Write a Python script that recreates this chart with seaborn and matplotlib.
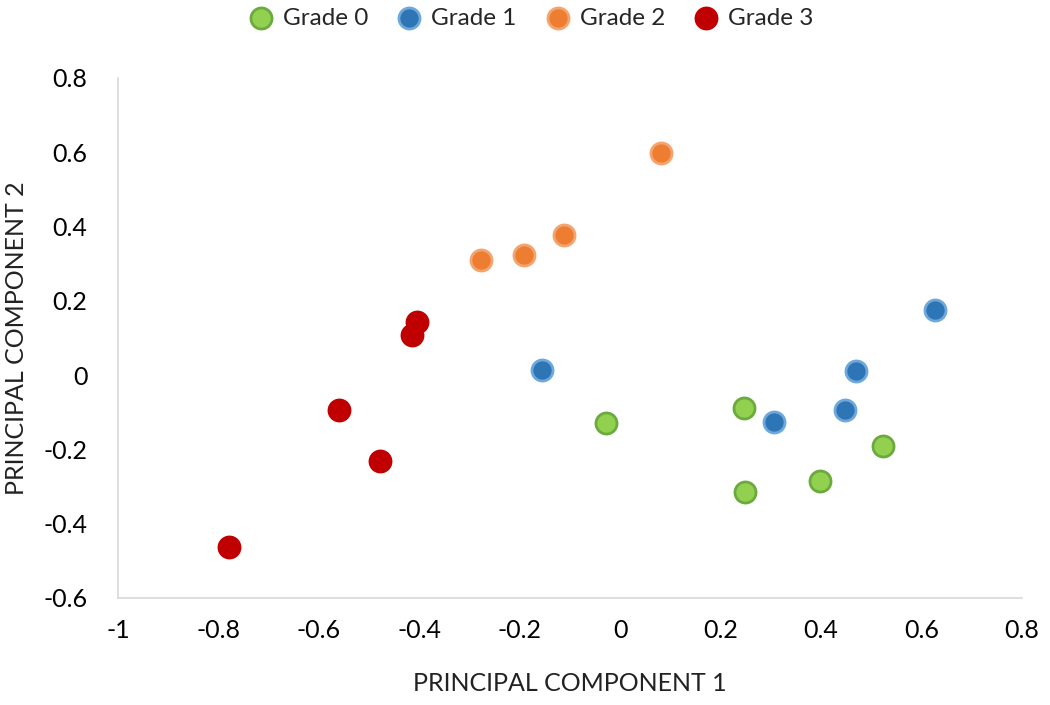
import pandas as pd
import matplotlib.pyplot as plt
import seaborn as sns

sns.set_style("white")
plt.rcParams['font.family'] = ['Lato', 'DejaVu Sans']

grades = ['Grade 0', 'Grade 1', 'Grade 2', 'Grade 3']
pc1 = {
    'Grade 0': [-0.028, 0.247, 0.249, 0.398, 0.523],
    'Grade 1': [-0.156, 0.306, 0.448, 0.470, 0.627],
    'Grade 2': [0.081, -0.277, -0.192, -0.112],
    'Grade 3': [-0.779, -0.560, -0.478, -0.415, -0.405],
}
pc2 = {
    'Grade 0': [-0.129, -0.089, -0.315, -0.285, -0.191],
    'Grade 1': [0.014, -0.126, -0.094, 0.011, 0.175],
    'Grade 2': [0.598, 0.310, 0.323, 0.377],
    'Grade 3': [-0.463, -0.094, -0.231, 0.108, 0.143],
}
fill = {'Grade 0': '#92D050', 'Grade 1': '#2E75B6', 'Grade 2': '#ED7D31', 'Grade 3': '#C00000'}
edge = {'Grade 0': '#6AAB3C', 'Grade 1': '#6FA8DC', 'Grade 2': '#F4A46E', 'Grade 3': '#C00000'}

rows = []
for g in grades:
    for x, y in zip(pc1[g], pc2[g]):
        rows.append({'pc1': x, 'pc2': y, 'grade': g})
df = pd.DataFrame(rows)

fig = plt.figure(figsize=(10.5, 7.05), dpi=100)
ax = fig.add_axes([0.1124, 0.1518, 0.861, 0.7376])
for g in grades:
    sub = df[df['grade'] == g]
    sns.scatterplot(data=sub, x='pc1', y='pc2', color=fill[g], edgecolor=edge[g],
                    linewidth=2, s=230, label=g, ax=ax, zorder=3)

ax.set_xlim(-1, 0.8)
ax.set_ylim(-0.6, 0.8)
xt = [-1, -0.8, -0.6, -0.4, -0.2, 0, 0.2, 0.4, 0.6, 0.8]
yt = [-0.6, -0.4, -0.2, 0, 0.2, 0.4, 0.6, 0.8]
ax.set_xticks(xt)
ax.set_xticklabels([f"{v:g}" for v in xt])
ax.set_yticks(yt)
ax.set_yticklabels([f"{v:g}" for v in yt])
ax.tick_params(axis='both', length=0, labelsize=18, labelcolor='black')
ax.tick_params(axis='x', pad=15)
ax.tick_params(axis='y', pad=22)
for s in ['top', 'right']:
    ax.spines[s].set_visible(False)
for s in ['left', 'bottom']:
    ax.spines[s].set_color('#D9D9D9')
    ax.spines[s].set_linewidth(1.2)
ax.grid(False)
ax.set_xlabel('PRINCIPAL COMPONENT 1', fontsize=18, color='#222222')
ax.set_ylabel('PRINCIPAL COMPONENT 2', fontsize=18, color='#222222')
ax.xaxis.set_label_coords(0.5, -0.143)
ax.yaxis.set_label_coords(-0.1, 0.5)

ax.legend(loc='center', bbox_to_anchor=(0.5, 1 - 18 / 705), bbox_transform=fig.transFigure,
          ncol=4, frameon=False, fontsize=17.5, handletextpad=-0.1, columnspacing=0.7,
          markerscale=1.0, borderaxespad=0.0)

fig.savefig('out.png', dpi=100)
